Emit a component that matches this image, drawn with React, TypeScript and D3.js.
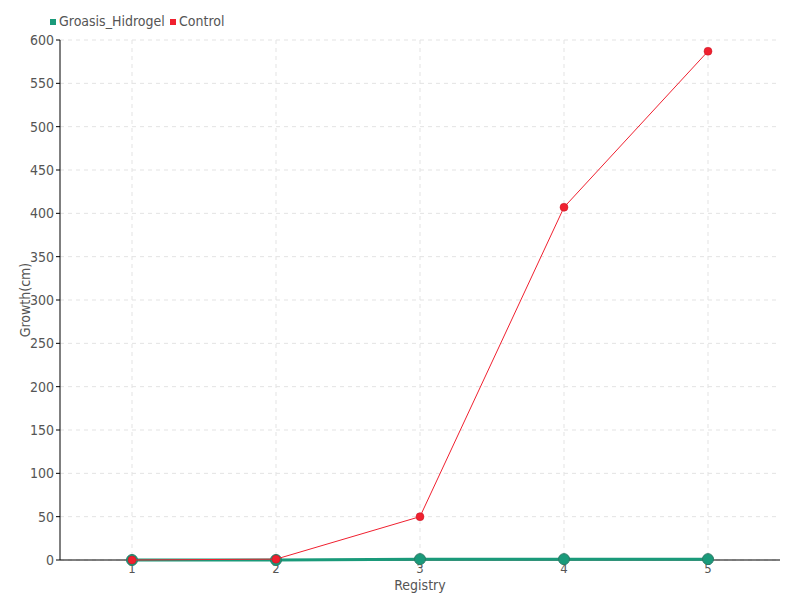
import React from "react";
import * as d3 from "d3";

const registry = [1, 2, 3, 4, 5];
const groasis = [0, 0, 1, 1, 1];
const control = [0, 1, 50, 407, 587];
const yTicks = d3.range(0, 601, 50);
const seriesNames = ["Groasis_Hidrogel", "Control"];

const W = 800, H = 600;
const m = { left: 60, right: 20, top: 40, bottom: 40 };
const FONT = "'DejaVu Sans Condensed', 'DejaVu Sans', sans-serif";
const GREEN = "#1a9a7a";
const RED = "#f0202f";

export default function App() {
  const x = d3.scaleLinear().domain([0.5, 5.5]).range([m.left, W - m.right]);
  const y = d3.scaleLinear().domain([0, 600]).range([H - m.bottom, m.top]);
  const line = d3.line<number>().x((_, i) => x(registry[i])).y((d) => y(d));
  return (
    <svg width={W} height={H} style={{ position: "absolute", left: 0, top: 0, fontFamily: FONT }}>
      <rect width={W} height={H} fill="#fff" />
      {yTicks.map((t) => (
        <line key={"gy" + t} x1={m.left} x2={W - m.right} y1={y(t)} y2={y(t)} stroke="#e3e3e3" strokeDasharray="4,4" />
      ))}
      {registry.map((r) => (
        <line key={"gx" + r} x1={x(r)} x2={x(r)} y1={m.top} y2={H - m.bottom} stroke="#e3e3e3" strokeDasharray="4,4" />
      ))}
      <line x1={m.left} x2={m.left} y1={m.top} y2={H - m.bottom} stroke="#000" />
      <line x1={m.left} x2={W - m.right} y1={H - m.bottom} y2={H - m.bottom} stroke="#000" />
      {yTicks.map((t) => (
        <g key={"ty" + t}>
          <line x1={m.left - 4} x2={m.left} y1={y(t)} y2={y(t)} stroke="#000" />
          <text x={m.left - 6} y={y(t)} dy="0.35em" textAnchor="end" fontSize={14} fill="#555">{t}</text>
        </g>
      ))}
      {registry.map((r) => (
        <text key={"tx" + r} x={x(r)} y={H - m.bottom + 13} textAnchor="middle" fontSize={13} fill="#555">{r}</text>
      ))}
      <text x={(m.left + W - m.right) / 2} y={590} textAnchor="middle" fontSize={14} fill="#555">Registry</text>
      <text transform={`translate(30,${(m.top + H - m.bottom) / 2}) rotate(-90)`} textAnchor="middle" fontSize={14} fill="#555">Growth(cm)</text>

      <path d={line(groasis) || ""} fill="none" stroke={GREEN} strokeWidth={3} />
      {groasis.map((v, i) => (
        <circle key={"g" + i} cx={x(registry[i])} cy={y(v)} r={5.5} fill={GREEN} stroke="#2a7a66" strokeWidth={1} />
      ))}
      <path d={line(control) || ""} fill="none" stroke={RED} strokeWidth={1} />
      {control.map((v, i) => (
        <circle key={"c" + i} cx={x(registry[i])} cy={y(v)} r={4} fill={RED} stroke="#c41424" strokeWidth={0.5} />
      ))}

      <rect x={50} y={19} width={6} height={6} fill={GREEN} />
      <text x={59} y={26} fontSize={14} fill="#555">{seriesNames[0]}</text>
      <rect x={170} y={19} width={6} height={6} fill={RED} />
      <text x={179} y={26} fontSize={14} fill="#555">{seriesNames[1]}</text>
    </svg>
  );
}
